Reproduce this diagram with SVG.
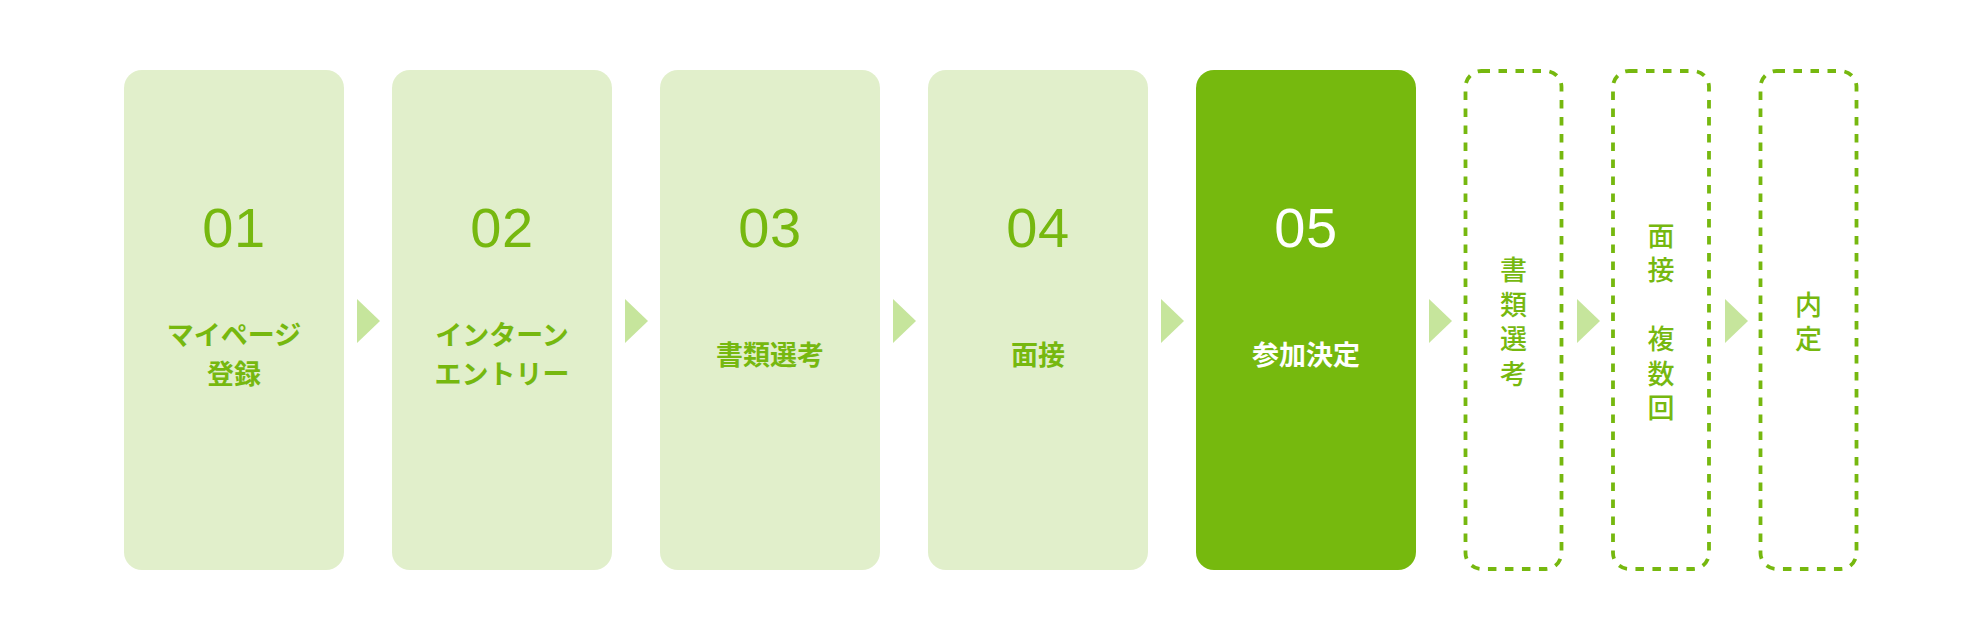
<svg xmlns="http://www.w3.org/2000/svg" width="1984" height="640" viewBox="0 0 1984 640">
<style>
.box{fill:#e1efcb}
.box.active{fill:#76b90e}
.dash{fill:none;stroke:#76b80f;stroke-width:3.8;stroke-dasharray:8.5 8.5}
.num{font-family:"Liberation Sans",Arial,sans-serif;font-size:56px;fill:#76b80f;text-anchor:middle;letter-spacing:0.5px}
.lbl{font-family:"Noto Sans CJK JP","Noto Sans CJK SC",sans-serif;font-size:27px;font-weight:bold;fill:#76b80f;text-anchor:middle}
.vt{font-family:"Noto Sans CJK JP","Noto Sans CJK SC",sans-serif;font-size:27px;font-weight:500;fill:#76b80f;text-anchor:middle;writing-mode:vertical-rl;letter-spacing:7.5px}
.white{fill:#ffffff}
.arr{fill:#c6e59c}
</style>
<rect width="1984" height="640" fill="#ffffff"/>
<g id="step01">
<rect class="box" x="124" y="70" width="220" height="500" rx="18"/>
<text class="num" x="234" y="247">01</text>
<text class="lbl" x="234" y="345">マイページ</text>
<text class="lbl" x="234" y="384">登録</text>
</g>
<g id="step02">
<rect class="box" x="392" y="70" width="220" height="500" rx="18"/>
<text class="num" x="502" y="247">02</text>
<text class="lbl" x="502" y="345">インターン</text>
<text class="lbl" x="502" y="384">エントリー</text>
</g>
<g id="step03">
<rect class="box" x="660" y="70" width="220" height="500" rx="18"/>
<text class="num" x="770" y="247">03</text>
<text class="lbl" x="770" y="365">書類選考</text>
</g>
<g id="step04">
<rect class="box" x="928" y="70" width="220" height="500" rx="18"/>
<text class="num" x="1038" y="247">04</text>
<text class="lbl" x="1038" y="365">面接</text>
</g>
<g id="step05">
<rect class="box active" x="1196" y="70" width="220" height="500" rx="18"/>
<text class="num white" x="1306" y="247">05</text>
<text class="lbl white" x="1306" y="365">参加決定</text>
</g>
<g id="after1">
<rect class="dash" x="1465.5" y="71" width="96" height="498" rx="16"/>
<text class="vt" x="1513.5" y="325.5">書類選考</text>
</g>
<g id="after2">
<rect class="dash" x="1613" y="71" width="96" height="498" rx="16"/>
<text class="vt" x="1661" y="325.5">面接　複数回</text>
</g>
<g id="after3">
<rect class="dash" x="1760.5" y="71" width="96" height="498" rx="16"/>
<text class="vt" x="1808.5" y="325.5">内定</text>
</g>
<g id="connectors">
<polygon class="arr" points="357,299 380,321 357,343"/>
<polygon class="arr" points="625,299 648,321 625,343"/>
<polygon class="arr" points="893,299 916,321 893,343"/>
<polygon class="arr" points="1161,299 1184,321 1161,343"/>
<polygon class="arr" points="1429,299 1452,321 1429,343"/>
<polygon class="arr" points="1577,299 1600,321 1577,343"/>
<polygon class="arr" points="1725,299 1748,321 1725,343"/>
</g>
</svg>
